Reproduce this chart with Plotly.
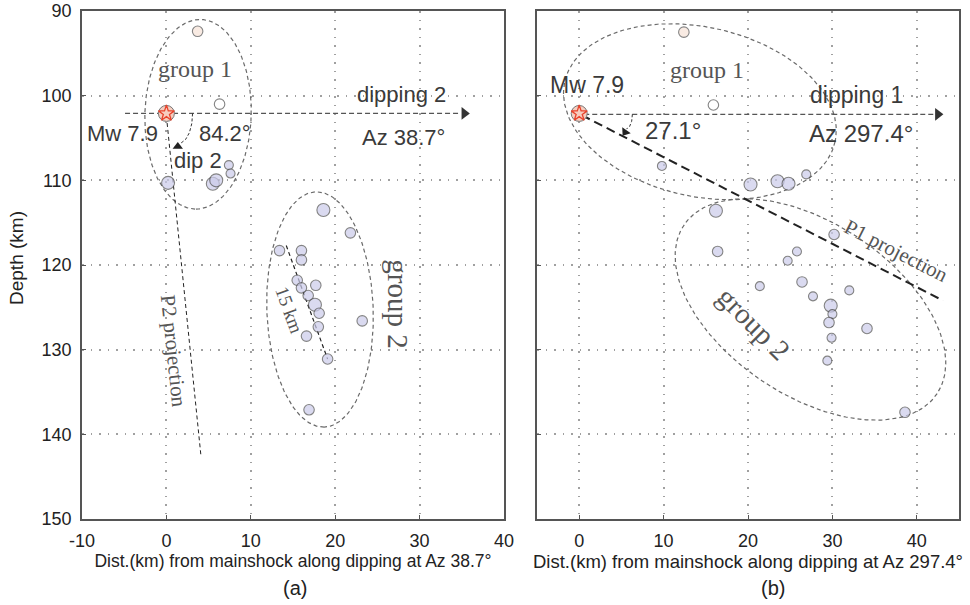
import numpy as np
import plotly.graph_objects as go

# ---------------- data ----------------
# Panel (a): distance along dipping at Az 38.7 deg
A_DIST = [3.7, 6.3, 0.2, 5.5, 5.9, 7.4, 7.6,
          18.6, 21.8, 13.4, 16.0, 16.0, 15.5, 17.7, 16.0, 16.8, 17.6, 18.1, 18.0, 16.6, 19.1, 23.2, 16.9]
A_DEPTH = [92.4, 101.0, 110.3, 110.4, 110.0, 108.2, 109.2,
           113.5, 116.2, 118.3, 118.3, 119.4, 121.8, 122.4, 122.7, 123.6, 124.7, 125.7, 127.3, 128.4, 131.1, 126.6, 137.1]
A_MAG = ['M', 'M', 'L', 'L', 'L', 'S', 'S',
         'L', 'M', 'M', 'M', 'M', 'M', 'M', 'M', 'M', 'L', 'M', 'M', 'M', 'M', 'M', 'M']
A_KIND = ['p', 'w', 'g', 'g', 'g', 'g', 'g',
          'g', 'g', 'g', 'g', 'g', 'g', 'g', 'g', 'g', 'g', 'g', 'g', 'g', 'g', 'g', 'g']

# Panel (b): distance along dipping at Az 297.4 deg
B_DIST = [12.4, 15.9, 9.8, 20.3, 23.5, 24.8, 26.9,
          16.2, 30.2, 16.4, 25.8, 24.7, 21.4, 26.4, 27.7, 32.0, 29.8, 30.0, 29.6, 29.9, 34.1, 29.4, 38.6]
B_DEPTH = [92.5, 101.1, 108.3, 110.5, 110.1, 110.4, 109.3,
           113.6, 116.4, 118.4, 118.4, 119.5, 122.5, 122.0, 123.7, 123.0, 124.8, 125.8, 126.8, 128.6, 127.5, 131.3, 137.4]
B_MAG = ['M', 'M', 'S', 'L', 'L', 'L', 'S',
         'L', 'M', 'M', 'S', 'S', 'S', 'M', 'S', 'S', 'L', 'S', 'M', 'S', 'M', 'S', 'M']
B_KIND = ['p', 'w', 'g', 'g', 'g', 'g', 'g',
          'g', 'g', 'g', 'g', 'g', 'g', 'g', 'g', 'g', 'g', 'g', 'g', 'g', 'g', 'g', 'g']

MAIN_DIST = [0.0]
MAIN_DEPTH = [102.1]

X_TICKS_A = [-10, 0, 10, 20, 30, 40]
X_LABELS_A = ['-10', '0', '10', '20', '30', '40']
X_TICKS_B = [0, 10, 20, 30, 40]
X_LABELS_B = ['0', '10', '20', '30', '40']
Y_TICKS = [90, 100, 110, 120, 130, 140, 150]
Y_LABELS = ['90', '100', '110', '120', '130', '140', '150']

# guide geometry (cx, cy, semi-major, semi-minor, angle deg)
ELL_A = [(3.75, 102.2, 11.2, 6.3, 91.8), (18.2, 125.25, 13.9, 6.3, 87.9)]
ELL_B = [(14.3, 101.9, 16.4, 10.0, 12.5), (27.4, 125.25, 18.0, 10.2, 33.5)]
AZ_LINE_A = ([-4.9, 34.8], [102.1, 102.1])
AZ_LINE_B = ([0.6, 42.0], [102.2, 102.2])
P2_LINE = ([0.0, 4.1], [102.4, 142.6])
KM15_LINE = ([14.2, 19.1], [117.7, 131.1])
P1_LINE = ([0.3, 43.1], [102.3, 124.2])

# ---------------- styling helpers ----------------
SIZE_PX = {'S': 9, 'M': 10.5, 'L': 13}
FILL = {'p': '#f7e3d8', 'w': '#ffffff', 'g': '#cbcbea'}
SANS = 'Liberation Sans, Arial, sans-serif'
SERIF = 'Liberation Serif, Times New Roman, serif'


def ellipse(cx, cy, a, b, ang):
    t = np.linspace(0, 2 * np.pi, 200)
    th = np.deg2rad(ang)
    x = cx + a * np.cos(t) * np.cos(th) - b * np.sin(t) * np.sin(th)
    y = cy + a * np.cos(t) * np.sin(th) + b * np.sin(t) * np.cos(th)
    return x, y


def arc(cx, cy, rx, ry):
    t = np.linspace(0, np.pi / 2, 40)
    return cx + rx * np.cos(t), cy + ry * np.sin(t)


fig = go.Figure()


def add_line(x, y, xa, ya, color, width, dash):
    fig.add_trace(go.Scatter(x=list(x), y=list(y), mode='lines', xaxis=xa, yaxis=ya,
                             line=dict(color=color, width=width, dash=dash),
                             hoverinfo='skip', showlegend=False))


def add_marker(x, y, xa, ya, symbol, size, color, angle=0):
    fig.add_trace(go.Scatter(x=x, y=y, mode='markers', xaxis=xa, yaxis=ya,
                             marker=dict(symbol=symbol, size=size, color=color, angle=angle,
                                         line=dict(width=0)),
                             hoverinfo='skip', showlegend=False))


for xa, ya, ells in (('x', 'y', ELL_A), ('x2', 'y2', ELL_B)):
    for e in ells:
        ex, ey = ellipse(*e)
        add_line(ex, ey, xa, ya, '#6a6a6a', 1.2, '4px,3px')

# panel (a) lines
add_line(*AZ_LINE_A, 'x', 'y', '#555555', 1.3, '5px,3px')
add_marker([AZ_LINE_A[0][1] + 0.5], [AZ_LINE_A[1][1]], 'x', 'y', 'triangle-right', 11, '#333333')
add_line(*P2_LINE, 'x', 'y', '#222222', 1.0, '4px,3px')
add_line(*KM15_LINE, 'x', 'y', '#222222', 1.2, '4px,3px')
ax_, ay_ = arc(1.5, 102.1, 1.6, 3.5)
add_line(ax_, ay_, 'x', 'y', '#333333', 1.0, '3px,2px')
add_marker([1.35], [106.0], 'x', 'y', 'triangle-up', 9, '#222222')

# panel (b) lines
add_line(*AZ_LINE_B, 'x2', 'y2', '#555555', 1.3, '5px,3px')
add_marker([AZ_LINE_B[0][1] + 0.5], [AZ_LINE_B[1][1]], 'x2', 'y2', 'triangle-right', 11, '#333333')
add_line(*P1_LINE, 'x2', 'y2', '#222222', 2.0, '9px,5px')
bx_, by_ = arc(5.6, 102.2, 0.7, 1.7)
add_line(bx_, by_, 'x2', 'y2', '#333333', 1.0, '3px,2px')
add_marker([5.45], [104.3], 'x2', 'y2', 'triangle-down', 9, '#222222', angle=35)

# events
for xa, ya, xs, ds, mg, kd in (('x', 'y', A_DIST, A_DEPTH, A_MAG, A_KIND),
                               ('x2', 'y2', B_DIST, B_DEPTH, B_MAG, B_KIND)):
    fig.add_trace(go.Scatter(x=xs, y=ds, mode='markers', xaxis=xa, yaxis=ya,
                             marker=dict(size=[SIZE_PX[m] for m in mg],
                                         color=[FILL[k] for k in kd],
                                         line=dict(color='#505050', width=1.1)),
                             showlegend=False))
    fig.add_trace(go.Scatter(x=MAIN_DIST, y=MAIN_DEPTH, mode='markers', xaxis=xa, yaxis=ya,
                             marker=dict(size=16, color='#f6cdbf', line=dict(color='#777777', width=1)),
                             showlegend=False))
    fig.add_trace(go.Scatter(x=MAIN_DIST, y=MAIN_DEPTH, mode='markers', xaxis=xa, yaxis=ya,
                             marker=dict(symbol='star-open', size=12, color='#e8432c',
                                         line=dict(color='#e8432c', width=1.3)),
                             showlegend=False))

# ---------------- annotations ----------------
ann = []


def txt(x, y, s, xr, yr, size, font=SANS, color='#3a3a3a', angle=0):
    ann.append(dict(x=x, y=y, xref=xr, yref=yr, text=s, showarrow=False, textangle=angle,
                    font=dict(family=font, size=size, color=color), xanchor='center', yanchor='middle'))


G = '#555555'
txt(3.4, 96.8, 'group 1', 'x', 'y', 24, SERIF, G)
txt(27.9, 99.9, 'dipping 2', 'x', 'y', 22)
txt(28.1, 104.9, 'Az 38.7°', 'x', 'y', 22)
txt(-5.2, 104.5, 'Mw 7.9', 'x', 'y', 22)
txt(7.0, 104.5, '84.2°', 'x', 'y', 22)
txt(3.7, 107.6, 'dip 2', 'x', 'y', 22)
txt(0.9, 130.1, 'P2 projection', 'x', 'y', 21, SERIF, G, 84)
txt(14.5, 125.3, '15 km', 'x', 'y', 19, SERIF, G, 70)
txt(27.4, 124.6, 'group 2', 'x', 'y', 29, SERIF, G, 90)

txt(0.95, 98.7, 'Mw 7.9', 'x2', 'y2', 23)
txt(15.1, 97.0, 'group 1', 'x2', 'y2', 24, SERIF, G)
txt(32.9, 99.9, 'dipping 1', 'x2', 'y2', 23)
txt(33.4, 104.5, 'Az 297.4°', 'x2', 'y2', 24)
txt(11.1, 104.1, '27.1°', 'x2', 'y2', 24)
txt(37.6, 118.3, 'P1 projection', 'x2', 'y2', 21, SERIF, G, 27)
txt(20.6, 126.9, 'group 2', 'x2', 'y2', 29, SERIF, G, 45)

ann.append(dict(x=295 / 970, y=1 - 588 / 605, xref='paper', yref='paper', text='(a)', showarrow=False,
                font=dict(family=SANS, size=20, color='#222222'), xanchor='center', yanchor='middle'))
ann.append(dict(x=773 / 970, y=1 - 588 / 605, xref='paper', yref='paper', text='(b)', showarrow=False,
                font=dict(family=SANS, size=20, color='#222222'), xanchor='center', yanchor='middle'))
ann.append(dict(x=16 / 970, y=1 - 258 / 605, xref='paper', yref='paper', text='Depth (km)', showarrow=False,
                textangle=-90, font=dict(family=SANS, size=19, color='#222222'),
                xanchor='center', yanchor='middle'))

axis_common = dict(showline=True, mirror=True, linecolor='#555555', linewidth=1.5,
                   showgrid=True, gridcolor='#a0a0a0', griddash='1.5px,7px', gridwidth=1.5,
                   zeroline=False, ticks='inside', ticklen=4, tickwidth=1.2, tickcolor='#555555',
                   ticklabelstandoff=5,
                   tickfont=dict(family=SANS, size=18, color='#222222'), automargin=False)

y_dom = [1 - 519 / 605, 1 - 11 / 605]
fig.update_layout(
    width=970, height=605, margin=dict(l=0, r=0, t=0, b=0),
    paper_bgcolor='white', plot_bgcolor='white', showlegend=False,
    annotations=ann,
    xaxis=dict(domain=[82 / 970, 504 / 970], range=[-10, 40], tickvals=X_TICKS_A, ticktext=X_LABELS_A,
               title=dict(text='Dist.(km) from mainshock along dipping at Az 38.7°', standoff=4,
                          font=dict(family=SANS, size=17.5, color='#222222')),
               anchor='y', **axis_common),
    yaxis=dict(domain=y_dom, range=[150, 90], tickvals=Y_TICKS, ticktext=Y_LABELS, anchor='x', **axis_common),
    xaxis2=dict(domain=[537 / 970, 959 / 970], range=[-5, 45], tickvals=X_TICKS_B, ticktext=X_LABELS_B,
                title=dict(text='Dist.(km) from mainshock along dipping at Az 297.4°', standoff=4,
                           font=dict(family=SANS, size=18.5, color='#222222')),
                anchor='y2', **axis_common),
    yaxis2=dict(domain=y_dom, range=[150, 90], tickvals=Y_TICKS, showticklabels=False,
                anchor='x2', **axis_common),
)

fig.write_html('out.html')
